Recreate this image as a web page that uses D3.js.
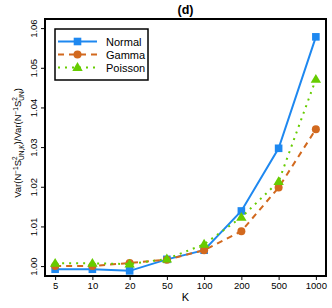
<!DOCTYPE html>
<html>
<head>
<meta charset="UTF-8">
<title>(d) variance ratio by K</title>
<style>
  body { margin: 0; background: #fff; }
  text { font-family: "Liberation Sans", Arial, sans-serif; }
</style>
</head>
<body>
<script src="https://d3js.org/d3.v7.min.js"></script>
<script>
// data
var kLabels = ["5", "10", "20", "50", "100", "200", "500", "1000"];
var normalVals  = [0.9992, 0.9992, 0.9988, 1.0017, 1.0040, 1.0139, 1.0297, 1.0578];
var gammaVals   = [1.0000, 1.0000, 1.0008, 1.0016, 1.0040, 1.0088, 1.0198, 1.0345];
var poissonVals = [1.0007, 1.0007, 1.0005, 1.0018, 1.0055, 1.0123, 1.0213, 1.0471];
var yTicks = [1.00, 1.01, 1.02, 1.03, 1.04, 1.05, 1.06];
var seriesNames = ["Normal", "Gamma", "Poisson"];

// sizes
var W = 332, H = 308;
var box = {left: 45, right: 326, top: 19, bottom: 276};

var series = [
  {name: seriesNames[0], vals: normalVals,  color: "#1E88F0", dash: null,  shape: "square"},
  {name: seriesNames[1], vals: gammaVals,   color: "#D2691E", dash: "6,5", shape: "circle"},
  {name: seriesNames[2], vals: poissonVals, color: "#66CC00", dash: "2,5", shape: "triangle"}
];

var svg = d3.select("body").append("svg")
    .attr("width", W)
    .attr("height", H);

var x = d3.scalePoint()
    .domain(kLabels)
    .range([box.left, box.right])
    .padding(0.272);

var y = d3.scaleLinear()
    .domain([0.9975, 1.0623])
    .range([box.bottom, box.top]);

// x axis
var xAxis = svg.append("g")
    .attr("transform", "translate(0," + box.bottom + ")")
    .call(d3.axisBottom(x).tickSize(4).tickPadding(2));
xAxis.select(".domain").remove();
xAxis.selectAll("text").style("font-size", "9.5px").attr("fill", "#000");

// y axis, labels turned like R does
var yAxis = svg.append("g")
    .attr("transform", "translate(" + box.left + ",0)")
    .call(d3.axisLeft(y).tickValues(yTicks).tickFormat(d3.format(".2f")).tickSize(4));
yAxis.select(".domain").remove();
yAxis.selectAll("text")
    .style("font-size", "9.5px")
    .attr("fill", "#000")
    .attr("x", 0).attr("y", -8).attr("dy", 0)
    .attr("transform", "rotate(-90)")
    .style("text-anchor", "middle");

// frame
svg.append("rect")
    .attr("x", box.left).attr("y", box.top)
    .attr("width", box.right - box.left)
    .attr("height", box.bottom - box.top)
    .attr("fill", "none")
    .attr("stroke", "#000")
    .attr("stroke-width", 2);

function drawMarker(g, shape, color, cx, cy) {
  if (shape == "square") {
    g.append("rect").attr("x", cx - 3.8).attr("y", cy - 3.8)
      .attr("width", 7.6).attr("height", 7.6).attr("fill", color);
  } else if (shape == "circle") {
    g.append("circle").attr("cx", cx).attr("cy", cy).attr("r", 4).attr("fill", color);
  } else {
    g.append("path")
      .attr("d", "M" + cx + "," + (cy - 5.4) + "L" + (cx + 5.2) + "," + (cy + 3.5) + "L" + (cx - 5.2) + "," + (cy + 3.5) + "Z")
      .attr("fill", color);
  }
}

var line = d3.line()
    .x(function(d, i) { return x(kLabels[i]); })
    .y(function(d) { return y(d); });

series.forEach(function(s) {
  var g = svg.append("g");
  g.append("path")
    .attr("d", line(s.vals))
    .attr("fill", "none")
    .attr("stroke", s.color)
    .attr("stroke-width", 2)
    .attr("stroke-dasharray", s.dash);
  s.vals.forEach(function(v, i) {
    drawMarker(g, s.shape, s.color, x(kLabels[i]), y(v));
  });
});

// legend
var leg = svg.append("g");
leg.append("rect")
    .attr("x", 55).attr("y", 29).attr("width", 93).attr("height", 51)
    .attr("fill", "#fff").attr("stroke", "#000").attr("stroke-width", 1.5);
series.forEach(function(s, i) {
  var ly = 41.5 + i * 13;
  leg.append("line")
    .attr("x1", 58).attr("x2", 97).attr("y1", ly).attr("y2", ly)
    .attr("stroke", s.color).attr("stroke-width", 2)
    .attr("stroke-dasharray", s.dash);
  drawMarker(leg, s.shape, s.color, 77.5, ly);
  leg.append("text")
    .attr("x", 106).attr("y", ly + 4)
    .style("font-size", "11px")
    .text(s.name);
});

// titles
svg.append("text")
    .attr("x", (box.left + box.right) / 2).attr("y", 14)
    .attr("text-anchor", "middle")
    .style("font-size", "12.5px").style("font-weight", "bold")
    .text("(d)");

svg.append("text")
    .attr("x", (box.left + box.right) / 2).attr("y", 301)
    .attr("text-anchor", "middle")
    .style("font-size", "11px")
    .text("K");

// y title with super/subscripts
var yt = svg.append("text")
    .attr("transform", "translate(21,143) rotate(-90)")
    .attr("text-anchor", "middle")
    .style("font-size", "9.5px");
function part(txt, dy, size, dx) {
  var t = yt.append("tspan").attr("dy", dy).text(txt);
  if (size) t.style("font-size", size);
  if (dx) t.attr("dx", dx);
}
part("Var(N", 0);
part("\u22121", -3.5, "6.5px");
part("S", 3.5);
part("2", -4.5, "6.5px");
part("UN,K", 7, "6.5px", -3.6);
part(")/Var(N", -2.5);
part("\u22121", -3.5, "6.5px");
part("S", 3.5);
part("2", -4.5, "6.5px");
part("UN", 7, "6.5px", -3.6);
part(")", -2.5);
</script>
</body>
</html>
